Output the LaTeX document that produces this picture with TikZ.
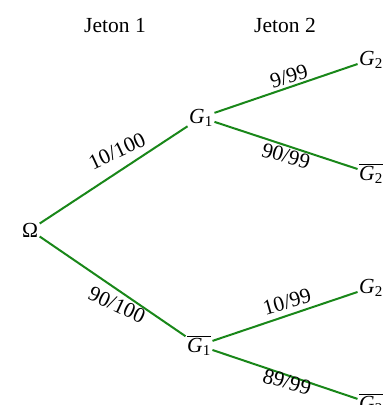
\documentclass[tikz,border=0pt]{standalone}
\usepackage{fontspec}
\setmainfont{Liberation Serif}
\definecolor{edgegreen}{RGB}{25,135,25}
\newcommand{\Gsub}[1]{\textit{G}\textsubscript{#1}}
\newcommand{\Gbar}[1]{$\overline{\hbox{\Gsub{#1}}}$}
\begin{document}
\begin{tikzpicture}[x=1pt,y=-1pt,
  font=\fontsize{21.5}{26}\selectfont,
  state/.style={inner sep=1.5pt, anchor=base},
  edge/.style={draw=edgegreen, line width=2pt},
  lab/.style={inner sep=0pt},
  head/.style={anchor=base}]
\useasboundingbox (0,0) rectangle (391,405);
\node[head] (h1) at (115,32) {Jeton 1};
\node[head] (h2) at (285,32) {Jeton 2};
\node[state] (O) at (30,237) {Ω};
\node[state] (G1) at (201,123) {\Gsub{1}};
\node[state] (G1b) at (199,352) {\Gbar{1}};
\node[state] (G2a) at (371,65) {\Gsub{2}};
\node[state] (G2ab) at (371,180) {\Gbar{2}};
\node[state] (G2b) at (371,293) {\Gsub{2}};
\node[state] (G2bb) at (371,410) {\Gbar{2}};
\draw[edge] (O) -- (G1);
\draw[edge] (O) -- (G1b);
\draw[edge] (G1) -- (G2a);
\draw[edge] (G1) -- (G2ab);
\draw[edge] (G1b) -- (G2b);
\draw[edge] (G1b) -- (G2bb);
\node[lab, rotate=25] (l1) at (117,151) {10/100};
\node[lab, rotate=-25] (l2) at (117,305) {90/100};
\node[lab, rotate=16] (l3) at (289,76) {9/99};
\node[lab, rotate=-16] (l4) at (286,156) {90/99};
\node[lab, rotate=16] (l5) at (287,302) {10/99};
\node[lab, rotate=-16] (l6) at (287,382) {89/99};
\end{tikzpicture}
\end{document}
